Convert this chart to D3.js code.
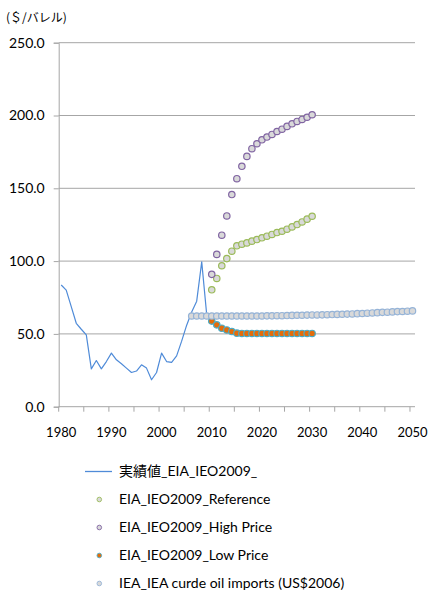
<!DOCTYPE html>
<html>
<head>
<meta charset="utf-8">
<script src="https://cdn.jsdelivr.net/npm/d3@7"></script>
<style>
  html, body { margin: 0; padding: 0; background: #fff; }
  svg { display: block; }
  text { font-family: Lato, "Noto Sans CJK JP", sans-serif; fill: #000; }
</style>
</head>
<body>
<svg id="chart" width="429" height="591"></svg>
<script>
// Crude oil price history and outlooks ($/barrel)
const years = d3.range(1980, 2051);

const actualYears = d3.range(1980, 2010);
const actual = [83.6, 80.1, 68.7, 57.3, 53.2, 49.3, 26.0, 31.7, 26.0, 31.0,
                36.8, 32.2, 29.5, 26.5, 23.5, 24.5, 28.8, 26.5, 18.5, 23.5,
                36.8, 31.0, 30.4, 34.9, 45.0, 56.0, 65.0, 72.5, 99.5, 63.0];

const outlookYears = d3.range(2010, 2031);
const reference = [80.3, 88.1, 96.8, 101.7, 106.8, 110.5, 111.6, 112.5, 113.7, 114.8,
                   116.0, 117.1, 118.3, 119.6, 120.5, 121.9, 123.5, 125.1, 126.9, 128.8, 130.8];
const highPrice = [90.9, 104.6, 117.8, 131.0, 145.7, 156.6, 165.1, 171.9, 177.2, 180.6,
                   183.3, 185.2, 187.0, 189.0, 190.6, 192.5, 194.3, 195.9, 197.3, 198.8, 200.5];
const lowPrice = [58.8, 56.2, 53.9, 52.7, 51.6, 50.5, 50.3, 50.3, 50.3, 50.3,
                  50.3, 50.3, 50.3, 50.3, 50.3, 50.3, 50.3, 50.3, 50.3, 50.3, 50.3];

const ieaYears = d3.range(2006, 2051);
const ieaImports = [62.3, 62.3, 62.3, 62.3, 62.3, 62.3, 62.3, 62.3, 62.3, 62.3,
                    62.3, 62.3, 62.3, 62.3, 62.3, 62.4, 62.4, 62.5, 62.5, 62.6,
                    62.7, 62.8, 62.8, 62.9, 63.0, 63.0, 63.1, 63.2, 63.3, 63.4,
                    63.5, 63.6, 63.7, 63.9, 64.0, 64.2, 64.4, 64.6, 64.8, 64.9,
                    65.1, 65.3, 65.4, 65.6, 65.8];

const yTicks = [0, 50, 100, 150, 200, 250];
const xTickYears = d3.range(1980, 2051, 5);
const xLabelYears = d3.range(1980, 2051, 10);

const unitLabel = "(＄/バレル)";
const legendLabels = ["実績値_EIA_IEO2009_", "EIA_IEO2009_Reference", "EIA_IEO2009_High Price",
                      "EIA_IEO2009_Low Price", "IEA_IEA curde oil imports (US$2006)"];

const svg = d3.select("#chart");
const plotLeft = 58.7, plotRight = 415, plotTop = 42.7, plotBottom = 406.7;

const x = d3.scaleBand().domain(years).range([plotLeft, plotRight]).padding(0);
const cx = yr => x(yr) + x.bandwidth() / 2;
const y = d3.scaleLinear().domain([0, 250]).range([plotBottom, plotTop]);

const gridColor = "#a6a6a6";

// horizontal gridlines
svg.append("g").selectAll("line")
  .data(yTicks.filter(d => d > 0))
  .join("line")
  .attr("x1", plotLeft).attr("x2", plotRight)
  .attr("y1", d => y(d)).attr("y2", d => y(d))
  .attr("stroke", gridColor).attr("stroke-width", 1);

// y axis
const yAxis = svg.append("g")
  .attr("transform", `translate(${plotLeft},0)`)
  .call(d3.axisLeft(y).tickValues(yTicks).tickFormat(d3.format(".1f")).tickSize(5).tickPadding(9));
yAxis.select(".domain").attr("stroke", gridColor);
yAxis.selectAll(".tick line").attr("stroke", gridColor);
yAxis.selectAll("text").style("font-size", "14px").style("font-family", "Lato, sans-serif").attr("fill", "#000");

// x axis baseline, tick marks at category boundaries, year labels
const xg = svg.append("g");
xg.append("line").attr("x1", plotLeft).attr("x2", plotRight)
  .attr("y1", plotBottom).attr("y2", plotBottom).attr("stroke", gridColor);
xg.selectAll("line.tk").data(xTickYears).join("line").attr("class", "tk")
  .attr("x1", d => x(d)).attr("x2", d => x(d))
  .attr("y1", plotBottom).attr("y2", plotBottom + 5).attr("stroke", gridColor);
xg.selectAll("text").data(xLabelYears).join("text")
  .attr("x", d => cx(d)).attr("y", plotBottom + 30)
  .attr("text-anchor", "middle").style("font-size", "13px")
  .text(d => d);

// unit label
svg.append("text").attr("x", 6).attr("y", 22)
  .style("font-size", "12px").style("font-family", "'Noto Sans CJK JP', sans-serif")
  .text(unitLabel);

// actual price line
svg.append("path")
  .datum(actualYears.map((yr, i) => [yr, actual[i]]))
  .attr("fill", "none").attr("stroke", "#4f8bd8").attr("stroke-width", 1.2)
  .attr("stroke-linejoin", "round")
  .attr("d", d3.line().x(d => cx(d[0])).y(d => y(d[1])));

const seriesStyles = [
  { yrs: outlookYears, vals: reference, fill: "#d9d9d9", stroke: "#9bbb59" },
  { yrs: outlookYears, vals: highPrice, fill: "#d9d9d9", stroke: "#8064a2" },
  { yrs: outlookYears, vals: lowPrice, fill: "#e46c0a", stroke: "#4bacc6" },
  { yrs: ieaYears, vals: ieaImports, fill: "#d9d9d9", stroke: "#95b3d7" }
];

seriesStyles.forEach(s => {
  svg.append("g").selectAll("circle")
    .data(s.yrs.map((yr, i) => [yr, s.vals[i]]))
    .join("circle")
    .attr("cx", d => cx(d[0])).attr("cy", d => y(d[1]))
    .attr("r", 3.2)
    .attr("fill", s.fill).attr("stroke", s.stroke).attr("stroke-width", 1.2);
});

// legend
const legendY0 = 471.5, legendStep = 28, textX = 119;
const lg = svg.append("g");
legendLabels.forEach((lab, i) => {
  const ly = legendY0 + i * legendStep;
  if (i === 0) {
    lg.append("line").attr("x1", 85).attr("x2", 112).attr("y1", ly).attr("y2", ly)
      .attr("stroke", "#4f8bd8").attr("stroke-width", 1.3);
  } else {
    const s = seriesStyles[i - 1];
    lg.append("circle").attr("cx", 99.3).attr("cy", ly).attr("r", 2.3)
      .attr("fill", s.fill).attr("stroke", s.stroke).attr("stroke-width", 0.9);
  }
  lg.append("text").attr("x", textX).attr("y", ly).attr("dy", "0.35em")
    .style("font-size", "14px").text(lab);
});
</script>
</body>
</html>
